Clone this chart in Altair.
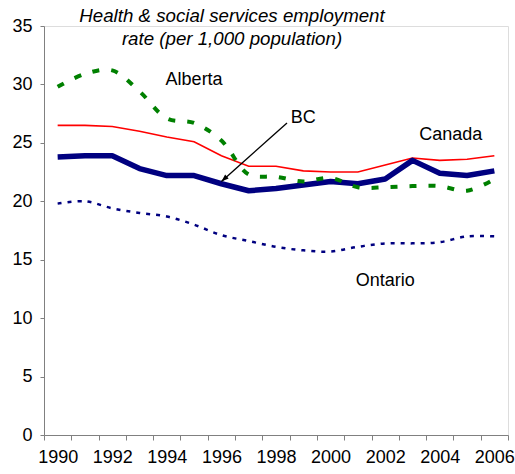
import altair as alt
import pandas as pd

years = list(range(1990, 2007))
canada = [26.5, 26.5, 26.4, 26.0, 25.5, 25.1, 23.9, 23.0, 23.0, 22.6, 22.5, 22.5, 23.1, 23.7, 23.5, 23.6, 23.9]
bc = [23.8, 23.9, 23.9, 22.8, 22.2, 22.2, 21.5, 20.9, 21.1, 21.4, 21.7, 21.5, 21.9, 23.5, 22.4, 22.2, 22.6]
alberta = [29.8, 30.9, 31.2, 29.4, 27.1, 26.7, 25.2, 22.3, 22.1, 21.7, 22.0, 21.2, 21.2, 21.3, 21.3, 20.9, 21.9]
ontario = [19.8, 20.0, 19.4, 19.0, 18.7, 18.0, 17.1, 16.6, 16.1, 15.8, 15.7, 16.1, 16.4, 16.4, 16.5, 17.0, 17.0]

title_lines = ["Health & social services employment", "rate (per 1,000 population)"]

label_names = ["Alberta", "BC", "Ontario"]
label_years = [1995, 1999, 2002]
label_values = [30.4, 27.1, 13.2]
canada_label_year = [2004]
canada_label_value = [25.7]

arrow_from_year = [1998]
arrow_from_value = [26.7]
arrow_to_year = [1996]
arrow_to_value = [21.7]

FONT = "Liberation Sans"
FS = 18
W, H = 464, 409

rows = []
for name, vals in [("Canada", canada), ("BC", bc), ("Alberta", alberta), ("Ontario", ontario)]:
    for y, v in zip(years, vals):
        rows.append({"year": y, "value": v, "series": name})
df = pd.DataFrame(rows)

xscale = alt.Scale(type="band", paddingInner=0, paddingOuter=0, domain=years)
yscale = alt.Scale(domain=[0, 35], nice=False, zero=True)

x_axis = alt.Axis(
    title=None, tickBand="extent", labelAngle=0, labelOverlap=False,
    labelExpr="datum.value % 2 == 0 ? datum.label : ''",
    domainColor="#808080", tickColor="#808080", tickSize=5,
    labelFont=FONT, labelFontSize=FS, labelColor="black", labelPadding=8,
    grid=False,
)
y_axis = alt.Axis(
    title=None, values=[0, 5, 10, 15, 20, 25, 30, 35],
    domainColor="#808080", tickColor="#808080", tickSize=4,
    labelFont=FONT, labelFontSize=FS, labelColor="black", labelPadding=8,
    grid=False,
)

X = alt.X("year:O", scale=xscale, axis=x_axis, bandPosition=0.5)
Y = alt.Y("value:Q", scale=yscale, axis=y_axis)

base = alt.Chart(df)

canada_line = base.transform_filter(alt.datum.series == "Canada").mark_line(
    color="#FF0000", strokeWidth=1.6).encode(x=X, y=Y)
bc_line = base.transform_filter(alt.datum.series == "BC").mark_line(
    color="#000080", strokeWidth=5.5, strokeJoin="round").encode(x=X, y=Y)
alberta_line = base.transform_filter(alt.datum.series == "Alberta").mark_line(
    color="#008000", strokeWidth=4, strokeDash=[7, 12], interpolate="catmull-rom").encode(x=X, y=Y)
ontario_line = base.transform_filter(alt.datum.series == "Ontario").mark_line(
    color="#000080", strokeWidth=2.5, strokeDash=[4, 6], interpolate="catmull-rom").encode(x=X, y=Y)

labels_df = pd.DataFrame({"name": label_names, "year": label_years, "value": label_values})
labels = alt.Chart(labels_df).mark_text(
    font=FONT, fontSize=FS, color="black", baseline="middle", align="center"
).encode(
    x=alt.X("year:O", scale=xscale, bandPosition=0.5),
    y=alt.Y("value:Q", scale=yscale),
    text="name:N",
)
canada_df = pd.DataFrame({"name": ["Canada"], "year": canada_label_year, "value": canada_label_value})
canada_label = alt.Chart(canada_df).mark_text(
    font=FONT, fontSize=FS, color="black", baseline="middle", align="center", dx=11
).encode(
    x=alt.X("year:O", scale=xscale, bandPosition=0.5),
    y=alt.Y("value:Q", scale=yscale),
    text="name:N",
)

arrow_df = pd.DataFrame({
    "y1": arrow_from_year, "v1": arrow_from_value,
    "y2": arrow_to_year, "v2": arrow_to_value,
})
arrow_line = alt.Chart(arrow_df).mark_rule(
    color="black", strokeWidth=1.4, xOffset=11
).encode(
    x=alt.X("y1:O", scale=xscale, bandPosition=0.5),
    x2=alt.X2("y2"),
    y=alt.Y("v1:Q", scale=yscale),
    y2=alt.Y2("v2"),
)
arrow_head = alt.Chart(arrow_df).mark_point(
    shape="M0,0L-0.5,1.4L0.5,1.4Z", filled=True, color="black", size=110, angle=228, opacity=1
).encode(
    x=alt.X("y2:O", scale=xscale, bandPosition=0.5),
    y=alt.Y("v2:Q", scale=yscale),
)

title_df = pd.DataFrame({"t": title_lines, "i": [0, 1]})
title1 = alt.Chart(title_df).transform_filter(alt.datum.i == 0).mark_text(
    font=FONT, fontSize=18.7, fontStyle="italic", color="black", align="center", baseline="alphabetic"
).encode(x=alt.value(188), y=alt.value(-4), text="t:N")
title2 = alt.Chart(title_df).transform_filter(alt.datum.i == 1).mark_text(
    font=FONT, fontSize=18.7, fontStyle="italic", color="black", align="center", baseline="alphabetic"
).encode(x=alt.value(188), y=alt.value(19), text="t:N")

chart = alt.layer(
    canada_line, bc_line, alberta_line, ontario_line, labels, canada_label,
    arrow_line, arrow_head, title1, title2
).properties(
    width=W, height=H,
    autosize=alt.AutoSizeParams(type="none"),
    padding={"left": 44, "top": 26, "right": 7, "bottom": 39},
).configure_view(stroke=None).configure(background="white")

chart.save("out.html", embed_options={"renderer": "svg", "actions": False})
